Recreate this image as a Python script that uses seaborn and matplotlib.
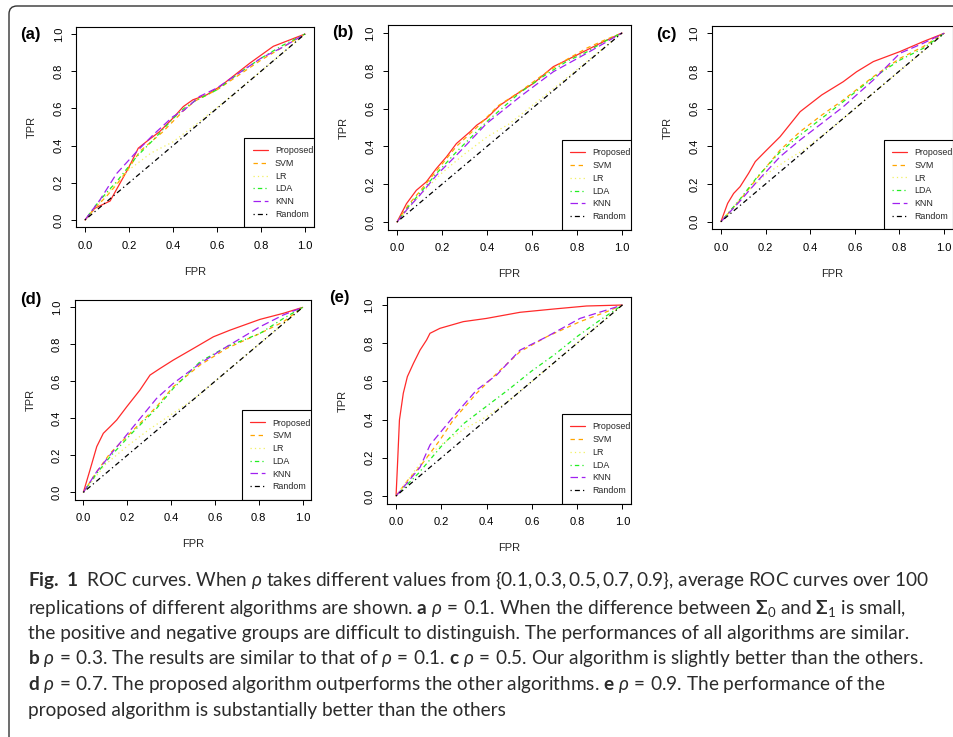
import matplotlib
matplotlib.use("Agg")
import matplotlib.pyplot as plt
import seaborn as sns
import pandas as pd
from matplotlib.patches import FancyBboxPatch
from matplotlib.transforms import IdentityTransform

sns.set_style("white")
plt.rcParams.update({
    "font.family": ["Liberation Sans", "DejaVu Sans"],
    "mathtext.fontset": "custom",
    "mathtext.rm": "Lato",
    "mathtext.it": "Lato:italic",
    "mathtext.bf": "Lato:bold",
})

# ---------------- data ----------------
METHODS = ["Proposed", "SVM", "LR", "LDA", "KNN", "Random"]
TICKS = [0.0, 0.2, 0.4, 0.6, 0.8, 1.0]
TICK_LABELS = ["0.0", "0.2", "0.4", "0.6", "0.8", "1.0"]
PANEL_LABELS = ["(a)", "(b)", "(c)", "(d)", "(e)"]

random_line = [(0, 0), (1, 1)]

a_proposed = [(0, 0), (0.045, 0.063), (0.114, 0.102), (0.197, 0.278), (0.242, 0.386), (0.28, 0.422),
              (0.34, 0.476), (0.40, 0.548), (0.447, 0.61), (0.49, 0.646), (0.553, 0.673), (0.614, 0.718),
              (0.75, 0.844), (0.856, 0.934), (1, 1)]
a_svm = [(0, 0), (0.05, 0.07), (0.1, 0.13), (0.15, 0.2), (0.2, 0.28), (0.25, 0.37), (0.3, 0.42), (0.35, 0.47),
         (0.4, 0.53), (0.45, 0.59), (0.5, 0.64), (0.6, 0.70), (0.7, 0.78), (0.8, 0.86), (0.9, 0.93), (1, 1)]
a_lr = [(0, 0), (0.1, 0.14), (0.2, 0.27), (0.3, 0.36), (0.4, 0.42), (0.5, 0.51), (0.7, 0.7), (1, 1)]
a_lda = [(0, 0), (0.05, 0.08), (0.1, 0.15), (0.144, 0.206), (0.2, 0.29), (0.235, 0.341), (0.31, 0.43),
         (0.4, 0.545), (0.45, 0.6), (0.5, 0.64), (0.6, 0.70), (0.7, 0.79), (0.8, 0.87), (0.9, 0.94), (1, 1)]
a_knn = [(0, 0), (0.068, 0.108), (0.144, 0.25), (0.235, 0.368), (0.31, 0.458), (0.40, 0.556), (0.45, 0.59),
         (0.52, 0.664), (0.6, 0.71), (0.7, 0.79), (0.8, 0.87), (0.9, 0.93), (1, 1)]

b_proposed = [(0, 0), (0.042, 0.097), (0.086, 0.168), (0.13, 0.212), (0.175, 0.283), (0.22, 0.345),
              (0.264, 0.415), (0.324, 0.477), (0.354, 0.512), (0.398, 0.548), (0.458, 0.618), (0.547, 0.689),
              (0.606, 0.733), (0.695, 0.822), (0.755, 0.857), (0.844, 0.91), (0.918, 0.954), (1, 1)]
b_svm = [(0, 0), (0.05, 0.09), (0.1, 0.16), (0.175, 0.27), (0.264, 0.40), (0.354, 0.50), (0.45, 0.615),
         (0.547, 0.69), (0.65, 0.78), (0.755, 0.86), (0.844, 0.92), (0.918, 0.96), (1, 1)]
b_lr = [(0, 0), (0.1, 0.14), (0.2, 0.26), (0.3, 0.36), (0.4, 0.45), (0.5, 0.52), (0.7, 0.71), (1, 1)]
b_lda = [(0, 0), (0.05, 0.08), (0.1, 0.15), (0.175, 0.256), (0.264, 0.371), (0.398, 0.53), (0.547, 0.685),
         (0.65, 0.77), (0.755, 0.85), (0.844, 0.9), (0.93, 0.96), (1, 1)]
b_knn = [(0, 0), (0.05, 0.075), (0.1, 0.14), (0.175, 0.247), (0.264, 0.353), (0.398, 0.521), (0.547, 0.663),
         (0.695, 0.795), (0.844, 0.893), (1, 1)]

c_proposed = [(0, 0), (0.03, 0.097), (0.057, 0.15), (0.086, 0.186), (0.124, 0.257), (0.154, 0.319),
              (0.198, 0.372), (0.265, 0.451), (0.355, 0.584), (0.452, 0.673), (0.548, 0.743), (0.608, 0.796),
              (0.683, 0.85), (0.802, 0.903), (0.906, 0.956), (1, 1)]
c_svm = [(0, 0), (0.086, 0.115), (0.161, 0.23), (0.265, 0.38), (0.355, 0.478), (0.452, 0.566), (0.548, 0.646),
         (0.683, 0.77), (0.802, 0.867), (0.906, 0.929), (1, 1)]
c_lr = [(0, 0), (0.1, 0.14), (0.2, 0.25), (0.3, 0.33), (0.37, 0.38), (0.5, 0.5), (1, 1)]
c_lda = [(0, 0), (0.086, 0.12), (0.161, 0.235), (0.265, 0.37), (0.355, 0.46), (0.452, 0.549), (0.548, 0.637),
         (0.683, 0.765), (0.802, 0.858), (0.906, 0.92), (1, 1)]
c_knn = [(0, 0), (0.086, 0.11), (0.161, 0.212), (0.265, 0.345), (0.355, 0.434), (0.452, 0.522), (0.548, 0.61),
         (0.683, 0.752), (0.802, 0.894), (0.906, 0.947), (1, 1)]

d_proposed = [(0, 0), (0.03, 0.12), (0.061, 0.247), (0.091, 0.319), (0.122, 0.355), (0.152, 0.391),
              (0.198, 0.463), (0.258, 0.553), (0.304, 0.634), (0.35, 0.67), (0.41, 0.715), (0.502, 0.778),
              (0.593, 0.841), (0.669, 0.877), (0.805, 0.935), (0.912, 0.968), (1, 1)]
d_svm = [(0, 0), (0.06, 0.11), (0.122, 0.211), (0.228, 0.337), (0.334, 0.463), (0.41, 0.571), (0.532, 0.688),
         (0.653, 0.778), (0.805, 0.859), (0.912, 0.922), (1, 1)]
d_lr = [(0, 0), (0.1, 0.15), (0.2, 0.25), (0.3, 0.34), (0.4, 0.42), (0.5, 0.5), (1, 1)]
d_lda = [(0, 0), (0.06, 0.1), (0.122, 0.193), (0.228, 0.328), (0.334, 0.454), (0.41, 0.562), (0.532, 0.706),
         (0.653, 0.787), (0.805, 0.859), (0.912, 0.94), (1, 1)]
d_knn = [(0, 0), (0.06, 0.11), (0.122, 0.202), (0.228, 0.355), (0.334, 0.508), (0.41, 0.589), (0.532, 0.697),
         (0.653, 0.787), (0.805, 0.895), (0.912, 0.959), (1, 1)]

e_proposed = [(0, 0), (0.006, 0.154), (0.015, 0.398), (0.032, 0.538), (0.05, 0.625), (0.077, 0.695),
              (0.106, 0.764), (0.135, 0.817), (0.15, 0.852), (0.194, 0.878), (0.297, 0.913), (0.4, 0.93),
              (0.548, 0.962), (0.695, 0.979), (0.842, 0.995), (1, 1)]
e_svm = [(0, 0), (0.05, 0.08), (0.106, 0.154), (0.194, 0.293), (0.253, 0.398), (0.356, 0.538), (0.445, 0.642),
         (0.548, 0.756), (0.666, 0.834), (0.813, 0.913), (0.931, 0.965), (1, 1)]
e_lr = [(0, 0), (0.1, 0.16), (0.2, 0.27), (0.3, 0.35), (0.4, 0.415), (0.5, 0.5), (1, 1)]
e_lda = [(0, 0), (0.1, 0.12), (0.2, 0.26), (0.3, 0.38), (0.4, 0.47), (0.5, 0.56), (0.6, 0.655), (0.7, 0.74),
         (0.8, 0.835), (0.9, 0.92), (1, 1)]
e_knn = [(0, 0), (0.05, 0.07), (0.106, 0.15), (0.15, 0.267), (0.253, 0.415), (0.356, 0.555), (0.445, 0.634),
         (0.548, 0.764), (0.666, 0.834), (0.813, 0.93), (0.931, 0.974), (1, 1)]

CAPTION_LINES = [
    r"$\mathbf{Fig.\ 1}$  ROC curves. When $\rho$ takes different values from $\{0.1,0.3,0.5,0.7,0.9\}$, average ROC curves over 100",
    r"replications of different algorithms are shown. $\mathbf{a}$ $\rho\,=\,0.1$. When the difference between $\mathbf{\Sigma}_0$ and $\mathbf{\Sigma}_1$ is small,",
    r"the positive and negative groups are difficult to distinguish. The performances of all algorithms are similar.",
    r"$\mathbf{b}$ $\rho\,=\,0.3$. The results are similar to that of $\rho\,=\,0.1$. $\mathbf{c}$ $\rho\,=\,0.5$. Our algorithm is slightly better than the others.",
    r"$\mathbf{d}$ $\rho\,=\,0.7$. The proposed algorithm outperforms the other algorithms. $\mathbf{e}$ $\rho\,=\,0.9$. The performance of the",
    r"proposed algorithm is substantially better than the others",
]

# ---------------- styles ----------------
COLORS = {"Proposed": "#FF2A2A", "SVM": "#FFA500", "LR": "#F2F060", "LDA": "#22EE22",
          "KNN": "#A020F0", "Random": "#000000"}
DASHES = {"Proposed": "", "SVM": (3.5, 3.0), "LR": (1.0, 2.5), "LDA": (1.0, 2.5, 3.5, 2.5),
          "KNN": (6.0, 3.0), "Random": (1.0, 2.5, 4.0, 2.5)}

W, H = 954, 737
fig = plt.figure(figsize=(W / 100, H / 100), dpi=100)
fig.patch.set_facecolor("white")


def rect(l, t, r, b):
    return [l / W, 1 - b / H, (r - l) / W, (b - t) / H]


panels = [
    ("(a)", (76.2, 26.6, 313.8, 227.4), (20, 34),
     {"Proposed": a_proposed, "SVM": a_svm, "LR": a_lr, "LDA": a_lda, "KNN": a_knn, "Random": random_line}),
    ("(b)", (388.0, 25.4, 631.0, 229.6), (332, 33),
     {"Proposed": b_proposed, "SVM": b_svm, "LR": b_lr, "LDA": b_lda, "KNN": b_knn, "Random": random_line}),
    ("(c)", (712.0, 25.8, 953.0, 229.2), (656, 34),
     {"Proposed": c_proposed, "SVM": c_svm, "LR": c_lr, "LDA": c_lda, "KNN": c_knn, "Random": random_line}),
    ("(d)", (74.6, 300.0, 311.4, 499.7), (20, 299),
     {"Proposed": d_proposed, "SVM": d_svm, "LR": d_lr, "LDA": d_lda, "KNN": d_knn, "Random": random_line}),
    ("(e)", (387.0, 297.4, 631.4, 503.6), (329, 298),
     {"Proposed": e_proposed, "SVM": e_svm, "LR": e_lr, "LDA": e_lda, "KNN": e_knn, "Random": random_line}),
]

for label, (l, t, r, b), (lx, ly), series in panels:
    ax = fig.add_axes(rect(l, t, r, b))
    rows = []
    for m in METHODS:
        for i, (x, y) in enumerate(series[m]):
            rows.append({"method": m, "step": i, "FPR": x, "TPR": y})
    df = pd.DataFrame(rows)
    sns.lineplot(data=df, x="FPR", y="TPR", hue="method", style="method",
                 hue_order=METHODS, style_order=METHODS, palette=COLORS, dashes=DASHES,
                 sort=False, estimator=None, linewidth=0.9, legend=False, ax=ax)
    ax.set_xlim(-0.04, 1.04)
    ax.set_ylim(-0.04, 1.04)
    ax.set_xticks(TICKS, TICK_LABELS)
    ax.set_yticks(TICKS, TICK_LABELS)
    for tl in ax.get_yticklabels():
        tl.set_rotation(90)
        tl.set_va("center")
    ax.tick_params(axis="both", direction="out", length=3.6, width=0.7, labelsize=8.0,
                   colors="black", left=True, bottom=True)
    ax.tick_params(axis="x", pad=6.0)
    ax.tick_params(axis="y", pad=5.4)
    for sp in ax.spines.values():
        sp.set_visible(True)
        sp.set_color("black")
        sp.set_linewidth(0.8)
        sp.set_zorder(3)
    wpx, hpx = r - l, b - t
    ax.set_xlabel("FPR", fontsize=8.0)
    ax.set_ylabel("TPR", fontsize=8.0)
    ax.xaxis.set_label_coords(0.5, -44.6 / hpx)
    ax.xaxis.label.set_va("center")
    ax.yaxis.set_label_coords(-44.2 / wpx, 0.5)
    ax.yaxis.label.set_va("center")
    ax.set_facecolor("white")

    handles = ax.get_lines()[:len(METHODS)]
    leg = ax.legend(handles, METHODS, loc="lower right", bbox_to_anchor=(1.0 + 8.0 / wpx, 0.0),
                    borderaxespad=0.0, fontsize=6.4, handlelength=1.7, handletextpad=0.8,
                    labelspacing=0.42, borderpad=0.95, fancybox=False, framealpha=1.0,
                    edgecolor="black", facecolor="white")
    leg.get_frame().set_linewidth(0.8)
    leg.set_zorder(2.6)
    for art in [leg.get_frame(), *leg.get_texts(), *leg.legend_handles]:
        art.set_clip_on(True)
        art.set_clip_box(ax.bbox)

    fig.text(lx / W, 1 - ly / H, label, ha="left", va="center", fontsize=12,
             fontweight="bold", color="black")

# caption
baselines = [586, 614, 639, 664, 690, 716]
for s, yb in zip(CAPTION_LINES, baselines):
    fig.text(28 / W, 1 - yb / H, s, ha="left", va="baseline", fontsize=13.7,
             family=["Lato", "DejaVu Sans"], color="#2b2b2b")

# outer rounded frame
frame = FancyBboxPatch((9, -30), 1000, 761, boxstyle="round,pad=0,rounding_size=8",
                       fill=False, edgecolor="#333333", linewidth=1.0,
                       transform=IdentityTransform())
fig.add_artist(frame)

fig.savefig("out.png", dpi=100, facecolor="white")
